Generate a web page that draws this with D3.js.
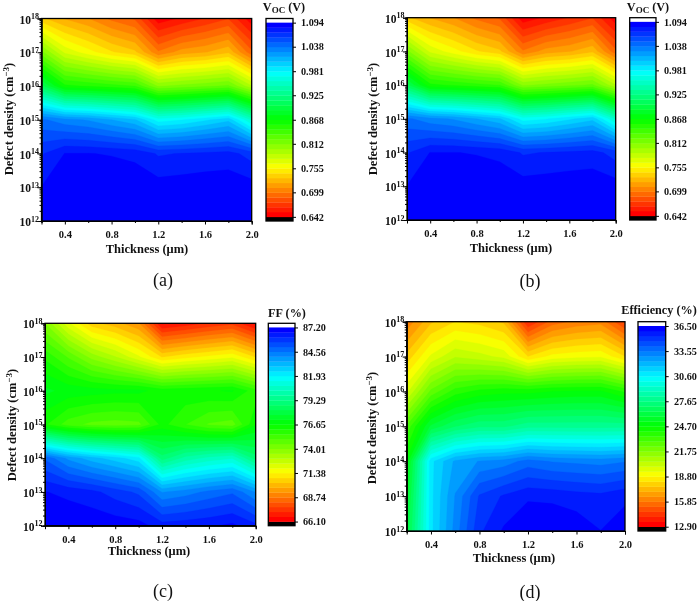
<!DOCTYPE html>
<html><head><meta charset="utf-8">
<script src="https://cdn.jsdelivr.net/npm/d3@7"></script>
<style>
html,body{margin:0;padding:0;background:#fff;overflow:hidden}
svg{display:block;filter:blur(0.55px)}
text{font-family:"Liberation Serif","Times New Roman",serif;fill:#111}
.b text,text.b{font-weight:bold}
</style></head><body>
<svg id="chart" width="700" height="601"></svg>
<script>
// ---- data ----
const thickness = [0.2,0.4,0.6,0.8,1.0,1.2,1.4,1.6,1.8,2.0];
const densityExp = [18,17,16,15,14,13,12];

const vocValues = [
 [0.735,0.72,0.71,0.695,0.685,0.645,0.655,0.665,0.675,0.645],
 [0.815,0.775,0.76,0.745,0.735,0.70,0.715,0.72,0.73,0.69],
 [0.905,0.86,0.855,0.85,0.845,0.81,0.815,0.82,0.825,0.79],
 [1.04,1.03,1.025,1.015,1.005,0.975,0.98,0.99,1.0,0.955],
 [1.07,1.083,1.083,1.082,1.08,1.07,1.072,1.074,1.076,1.066],
 [1.083,1.092,1.092,1.091,1.09,1.088,1.089,1.09,1.09,1.088],
 [1.094,1.094,1.094,1.094,1.094,1.094,1.094,1.094,1.094,1.094]
];
const ffValues = [
 [74,72,70.5,70,69.3,66.5,66.8,67.2,67.5,66.4],
 [76,75,73.8,73,72,70.8,71.2,71.5,71.8,70.8],
 [77.3,77,76.9,76.8,76.8,76.4,76.5,76.6,76.7,75.8],
 [76.2,75.3,74.9,74.8,74.9,76.3,75.6,75,74.8,76.6],
 [85,83.9,83.2,82.7,82.1,79,80,80.5,80.8,79],
 [86.7,86.5,86.3,85.9,85.5,84,84.3,84.7,85,84],
 [87.2,87.2,87.1,87,86.9,86.4,86.5,86.6,86.8,86.3]
];
const effValues = [
 [16,17.5,18.2,18,17.5,14,15.5,16,16.2,14.5],
 [17.8,19.5,20.5,20.2,19.8,18.2,19,19.2,19.3,18.2],
 [19.8,22.5,23.8,24.3,24.5,24.5,24.7,24.8,24.8,24],
 [23,26,27,27.5,27.5,28,28,28,28,28],
 [24.8,31,32.5,33,33.2,33.8,33.5,33.4,33.3,33.5],
 [25.5,31,33,34.8,35.4,35.8,35.75,35.6,35.5,35.8],
 [26,31,33.2,35.2,36,36.5,36.5,36.3,35.92,36.2]
];
const vocTicks = ["1.094","1.038","0.981","0.925","0.868","0.812","0.755","0.699","0.642"];
const ffTicks  = ["87.20","84.56","81.93","79.29","76.65","74.01","71.38","68.74","66.10"];
const effTicks = ["36.50","33.55","30.60","27.65","24.70","21.75","18.80","15.85","12.90"];
const xMajor = [0.4,0.8,1.2,1.6,2.0];
const xMinor = [0.2,0.6,1.0,1.4,1.8];
const colorStops = ["#ff0000","#ffff00","#00ff00","#00ffff","#0000ff"];
const levelCount = 40;

// ---- layout ----
const panels = [
 {values:vocValues,ticks:vocTicks,title:"voc",tag:"(a)",px:[41.5,251.7],py:[18.5,221],cb:[266,293],lx:301,tx:284,ty:11,yx:8.7,yc:119,xc:147,xb:252.5,tc:163,tb:286},
 {values:vocValues,ticks:vocTicks,title:"voc",tag:"(b)",px:[407,615.7],py:[17.7,220],cb:[629.7,656],lx:664,tx:648,ty:11,yx:373,yc:119,xc:511,xb:252,tc:530,tb:287},
 {values:ffValues,ticks:ffTicks,title:"FF (%)",tag:"(c)",px:[45,255.7],py:[323.3,525.7],cb:[268.3,295],lx:303,tx:287,ty:317,yx:12,yc:425,xc:149,xb:555,tc:163,tb:597},
 {values:effValues,ticks:effTicks,title:"Efficiency (%)",tag:"(d)",px:[406.7,625],py:[321.7,531],cb:[638,665.7],lx:674,tx:659,ty:314,yx:372,yc:428,xc:514,xb:562,tc:530,tb:598}
];

const svg = d3.select("#chart");
const ramp = d3.scaleLinear().domain(d3.range(colorStops.length).map(i=>i/(colorStops.length-1))).range(colorStops).clamp(true);

panels.forEach((p,pi)=>{
  const g = svg.append("g");
  const nx = thickness.length, ny = densityExp.length;
  const hi = +p.ticks[0], lo = +p.ticks[p.ticks.length-1];
  const x = d3.scaleLinear().domain([0.2,2.0]).range(p.px);
  const y = d3.scaleLog().domain([1e12,1e18]).range([p.py[1],p.py[0]]);
  const step = (hi-lo)/levelCount;
  const levels = d3.range(levelCount).map(i=>lo+i*step);
  const color = v=>ramp(Math.round((v-lo)/step)/(levelCount-1));

  // contour polygons on the data grid
  const flat = [];
  for(let j=0;j<ny;j++) flat.push(...p.values[j]);
  const contours = d3.contours().size([nx,ny]).smooth(true).thresholds(levels)(flat);
  const ix = d3.scaleLinear().domain([0,nx-1]).range([thickness[0],thickness[nx-1]]);
  const iy = d3.scaleLinear().domain([0,ny-1]).range([densityExp[0],densityExp[ny-1]]);
  const proj = d3.geoTransform({point(a,b){this.stream.point(x(ix(a-0.5)),y(Math.pow(10,iy(b-0.5))));}});
  const path = d3.geoPath(proj);
  const clipId = "clip"+pi;
  g.append("clipPath").attr("id",clipId).append("rect")
    .attr("x",p.px[0]).attr("y",p.py[0]).attr("width",p.px[1]-p.px[0]).attr("height",p.py[1]-p.py[0]);
  g.append("g").attr("clip-path",`url(#${clipId})`).selectAll("path").data(contours).join("path")
    .attr("d",path).attr("fill",d=>color(d.value)).attr("stroke",d=>color(d.value)).attr("stroke-width",0.3);

  // axes
  const yTicks = y.ticks();
  const xAxis = g.append("g").attr("class","b").attr("transform",`translate(0,${p.py[1]})`)
    .call(d3.axisBottom(x).tickValues(xMajor).tickSize(3.5).tickPadding(5).tickFormat(d3.format(".1f")));
  xAxis.selectAll("text").attr("font-size",10.5).attr("dy","0.8em");
  g.append("g").attr("transform",`translate(0,${p.py[1]})`)
    .call(d3.axisBottom(x).tickValues(xMinor).tickSize(2).tickFormat(""));
  g.append("g").attr("transform",`translate(${p.px[0]},0)`)
    .call(d3.axisLeft(y).tickValues(yTicks).tickSize(2).tickFormat(""));
  const yAxis = g.append("g").attr("class","b").attr("transform",`translate(${p.px[0]},0)`)
    .call(d3.axisLeft(y).tickValues(densityExp.map(e=>Math.pow(10,e))).tickSize(4).tickPadding(2.5).tickFormat(""));
  yAxis.selectAll(".tick").append("text")
    .attr("x",-2.5).attr("y",1).attr("dy","0.32em").attr("text-anchor","end").attr("font-size",11.5).attr("fill","#111")
    .each(function(d){
      const t = d3.select(this);
      t.append("tspan").text("10");
      t.append("tspan").attr("font-size",8).attr("dy","-0.55em").text(Math.round(Math.log10(d)));
    });
  g.selectAll("path.domain").attr("stroke","#000");
  g.selectAll(".tick line").attr("stroke","#000").attr("stroke-width",1);
  g.append("rect").attr("x",p.px[0]).attr("y",p.py[0]).attr("width",p.px[1]-p.px[0]).attr("height",p.py[1]-p.py[0])
    .attr("fill","none").attr("stroke","#000").attr("stroke-width",1.3);

  // colour bar
  const topGap = (p.py[1]-p.py[0])*0.0205;
  const cy = d3.scaleLinear().domain([lo,hi]).range([p.py[1]-topGap,p.py[0]+topGap]);
  const cw = p.cb[1]-p.cb[0];
  g.append("rect").attr("x",p.cb[0]).attr("y",p.py[0]).attr("width",cw).attr("height",topGap).attr("fill","#fff");
  g.append("rect").attr("x",p.cb[0]).attr("y",cy(lo)).attr("width",cw).attr("height",topGap).attr("fill","#000");
  g.append("g").selectAll("rect").data(levels).join("rect")
    .attr("x",p.cb[0]).attr("width",cw).attr("y",d=>cy(d+step)).attr("height",d=>cy(d)-cy(d+step)+0.3).attr("fill",color);
  g.append("rect").attr("x",p.cb[0]).attr("y",p.py[0]).attr("width",cw).attr("height",p.py[1]-p.py[0])
    .attr("fill","none").attr("stroke","#000").attr("stroke-width",1.3);
  const cAxis = g.append("g").attr("class","b").attr("transform",`translate(${p.cb[1]},0)`)
    .call(d3.axisRight(cy).tickValues(p.ticks.map(Number)).tickSize(3).tickPadding(p.lx-p.cb[1]-3).tickFormat((d,i)=>p.ticks[i]));
  cAxis.selectAll("text").attr("font-size",10.2);
  cAxis.select("path.domain").remove();
  cAxis.selectAll(".tick line").attr("stroke","#000");

  // titles
  const title = g.append("text").attr("class","b").attr("x",p.tx).attr("y",p.ty).attr("text-anchor","middle").attr("font-size",12.2);
  if(p.title==="voc"){
    title.append("tspan").text("V");
    title.append("tspan").attr("font-size",9).attr("dy","0.25em").text("OC");
    title.append("tspan").attr("dy","-0.2em").text(" (V)");
  } else title.text(p.title);
  g.append("text").attr("class","b").attr("x",p.xc).attr("y",p.xb).attr("text-anchor","middle").attr("font-size",12.5).text("Thickness (μm)");
  const yt = g.append("text").attr("class","b").attr("text-anchor","middle").attr("font-size",12.5)
    .attr("transform",`translate(${p.yx+4},${p.yc}) rotate(-90)`);
  yt.append("tspan").text("Defect density (cm");
  yt.append("tspan").attr("font-size",9).attr("dy","-0.45em").text("−3");
  yt.append("tspan").attr("dy","0.35em").text(")");
  g.append("text").attr("x",p.tc).attr("y",p.tb).attr("text-anchor","middle").attr("font-size",18).text(p.tag);
});
</script></body></html>
